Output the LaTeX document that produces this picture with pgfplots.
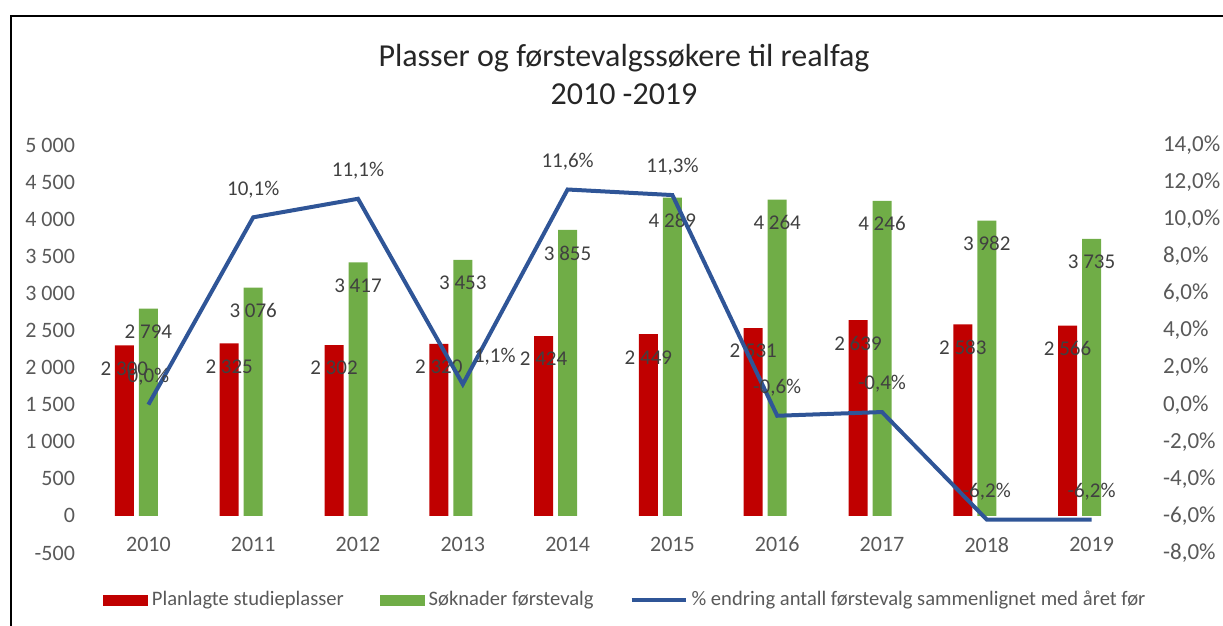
\documentclass[border=0pt]{standalone}
\usepackage{pgfplots}
\pgfplotsset{compat=1.18}
\usepackage{fontspec}
\setmainfont{Carlito}
\definecolor{barred}{HTML}{C00000}
\definecolor{bargreen}{HTML}{70AD47}
\definecolor{lineblue}{HTML}{2F5597}
\definecolor{ticktext}{HTML}{595959}
\definecolor{labeltext}{HTML}{404040}
\begin{document}
\begin{tikzpicture}
\path[use as bounding box] (0,0) rectangle (611.5pt,313pt);
\draw[black, line width=1pt] (5.5pt,0) -- (5.5pt,305pt) -- (611.5pt,305pt);
\node[align=center, font=\fontsize{16}{19}\selectfont, text=black!85] at (312pt,275.5pt) {Plasser og førstevalgssøkere til realfag\\2010 -2019};

\begin{axis}[
  at={(48pt,36.5pt)}, anchor=south west,
  scale only axis, width=524pt, height=204pt,
  xmin=2009.5, xmax=2019.5, ymin=-500, ymax=5000,
  axis y line*=left, axis x line*=bottom,
  axis line style={draw=none}, major tick length=0pt,
  tick style={draw=none},
  /pgf/number format/assume math mode=true,
  /pgf/number format/1000 sep={\ },
  xtick={2010,2011,2012,2013,2014,2015,2016,2017,2018,2019},
  xticklabels={2010,2011,2012,2013,2014,2015,2016,2017,2018,2019},
  ytick={-500,0,500,1000,1500,2000,2500,3000,3500,4000,4500,5000},
  xticklabel style={font=\fontsize{11}{13}\selectfont, text=ticktext, yshift=11.5pt},
  yticklabel style={font=\fontsize{11}{13}\selectfont, text=ticktext, xshift=-7pt},
  ybar, bar width=9.5pt,
  nodes near coords,
  nodes near coords style={anchor=center, yshift=-11.5pt, font=\fontsize{10.5}{12}\selectfont, text=labeltext},
]
\addplot[fill=barred, draw=none, bar shift=-12pt] coordinates {
 (2010,2300) (2011,2325) (2012,2302) (2013,2320) (2014,2424)
 (2015,2449) (2016,2531) (2017,2639) (2018,2583) (2019,2566)};
\addplot[fill=bargreen, draw=none, bar shift=0pt] coordinates {
 (2010,2794) (2011,3076) (2012,3417) (2013,3453) (2014,3855)
 (2015,4289) (2016,4264) (2017,4246) (2018,3982) (2019,3735)};
\end{axis}

\begin{axis}[
  at={(48pt,36.5pt)}, anchor=south west,
  scale only axis, width=524pt, height=204pt,
  xmin=2009.5, xmax=2019.5, ymin=-8, ymax=14,
  axis y line*=right, axis x line=none,
  axis line style={draw=none}, major tick length=0pt,
  tick style={draw=none},
  /pgf/number format/assume math mode=true,
  ytick={-8,-6,-4,-2,0,2,4,6,8,10,12,14},
  yticklabel={\pgfmathprintnumber[fixed,fixed zerofill,precision=1,use comma]{\tick}\%},
  yticklabel style={font=\fontsize{11.5}{13}\selectfont, text=ticktext, xshift=6pt},
  legend style={at={(0.506,-0.115)}, anchor=center, draw=none, fill=none,
    legend columns=3, font=\fontsize{10.3}{12}\selectfont, text=ticktext,
    /tikz/every even column/.append style={column sep=16pt}},
]
\addlegendimage{legend image code/.code={\fill[barred] (0pt,-2.5pt) rectangle (22pt,2.5pt);}}
\addlegendentry{Planlagte studieplasser}
\addlegendimage{legend image code/.code={\fill[bargreen] (0pt,-2.5pt) rectangle (22pt,2.5pt);}}
\addlegendentry{Søknader førstevalg}
\addplot[color=lineblue, line width=2pt, mark=none,
  legend image code/.code={\draw[lineblue, line width=2pt] (0pt,0pt) -- (27pt,0pt);}] coordinates {
 (2010,0.0) (2011,10.1) (2012,11.1) (2013,1.1) (2014,11.6)
 (2015,11.3) (2016,-0.6) (2017,-0.4) (2018,-6.2) (2019,-6.2)};
\addlegendentry{\% endring antall førstevalg sammenlignet med året før}
\addplot[draw=none, mark=none, forget plot, point meta=y,
  nodes near coords={\pgfmathprintnumber[fixed,fixed zerofill,precision=1,use comma]{\pgfplotspointmeta}\%},
  nodes near coords style={anchor=center, yshift=14pt, font=\fontsize{10.5}{12}\selectfont, text=labeltext}] coordinates {
 (2010,0.0) (2011,10.1) (2012,11.1) (2014,11.6)
 (2015,11.3) (2016,-0.6) (2017,-0.4) (2018,-6.2) (2019,-6.2)};
\addplot[draw=none, mark=none, forget plot, point meta=y,
  nodes near coords={\pgfmathprintnumber[fixed,fixed zerofill,precision=1,use comma]{\pgfplotspointmeta}\%},
  nodes near coords style={anchor=center, xshift=16pt, yshift=14pt, font=\fontsize{10.5}{12}\selectfont, text=labeltext}] coordinates {
 (2013,1.1)};
\end{axis}
\end{tikzpicture}
\end{document}
